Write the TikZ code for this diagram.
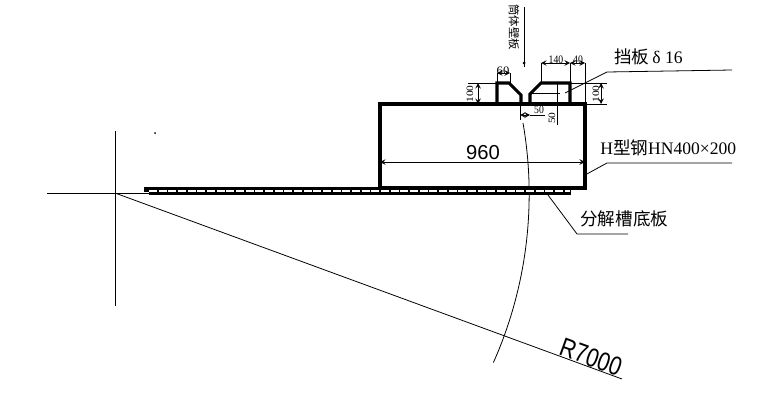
\documentclass[tikz,border=0pt]{standalone}
\usepackage{fontspec}
\setmainfont{Liberation Serif}
\newfontfamily\cjk{Noto Sans CJK SC}
\newfontfamily\dimfont{Liberation Sans}
\tikzset{
  wall/.style={draw,line width=1.8pt,line join=miter},
  thin line/.style={draw,line width=0.45pt},
  dim/.style={draw,line width=0.4pt,<->,>=stealth},
  dimtext/.style={inner sep=0pt,xscale=0.85,font=\fontsize{6.5}{7}\selectfont},
  label/.style={inner sep=0pt,anchor=west,font=\fontsize{10}{12}\selectfont},
  bigtext/.style={inner sep=0pt,font=\dimfont\fontsize{11.5}{12}\selectfont}
}
\begin{document}
\begin{tikzpicture}
\begin{scope}[x=0.2mm,y=-0.2mm]
\useasboundingbox (0,0) rectangle (759,403);

% centre lines and radius
\path[thin line] (115,131)--(115,306);
\path[thin line] (47,193)--(149,193);
\path[thin line] (115,193)--(622,379);
\path[thin line] (523,123) arc[start angle=-9.9,end angle=24,radius=414];
\path[draw,fill] (155,133) circle (0.5);

% bottom plate
\path[draw=black,fill=black] (144,187)--(570,187)--(570,194)--(149,194)--(149,191)--(144,191)--cycle;
\path[draw=white,line width=0.6pt,dash pattern=on 4.5pt off 1pt] (149,191)--(570,191);

% H beam
\path[wall] (380,188)--(380,104)--(585,104)--(585,188)--cycle;

% baffles
\path[wall] (497,104)--(497,83)--(509,83)--(521,95)--(521,104);
\path[wall] (530,104)--(530,94)--(541,83)--(570,83)--(570,104);

% dimensions
\path[dim] (380,162)--(585,162);
\path[thin line] (497,83)--(497,73);
\path[thin line] (510,83)--(510,73);
\path[dim] (497,73)--(510,73);
\path[thin line] (541,83)--(541,63);
\path[thin line] (570,83)--(570,63);
\path[thin line] (585,104)--(585,63);
\path[dim] (541,63)--(570,63);
\path[dim] (570,63)--(585,63);
\path[thin line] (468,83)--(497,83);
\path[thin line] (468,104)--(497,104);
\path[dim] (478,83)--(478,104);
\path[thin line] (570,83)--(607,83);
\path[thin line] (585,104)--(607,104);
\path[dim] (601,83)--(601,104);
\path[thin line] (520,104)--(520,120);
\path[dim] (520,115)--(530,115);
\path[thin line] (530,115)--(545,115);
\path[thin line] (530,93)--(560,93);
\path[thin line] (557,83)--(557,125);

\node[dimtext,xscale=1.3] (dimsixty) at (503,71) {60};
\node[dimtext] (dimwide) at (556,60) {140};
\node[dimtext] (dimforty) at (578,60) {40};
\node[dimtext,rotate=90] (dimleft) at (470,94) {100};
\node[dimtext,rotate=90] (dimright) at (596,94) {100};
\node[dimtext] (dimgap) at (539,110) {50};
\node[dimtext,rotate=90] (dimrise) at (552,118) {50};
\node[bigtext] (dimspan) at (483,153) {960};
\node[inner sep=0pt,rotate=-20,xscale=0.82,font=\dimfont\fontsize{15}{16}\selectfont] (dimradius) at (591,357) {R7000};

% leaders
\path[thin line] (524,7)--(524,67);
\path[draw,fill] (524,63) circle (1);
\path[thin line] (565,93)--(607,72)--(732,70);
\path[thin line] (585,175)--(607,163)--(732,163);
\path[thin line] (548,195)--(577,234)--(628,234);

\node[inner sep=0pt,rotate=-90,font=\cjk\fontsize{6.5}{7}\selectfont] (wallplate) at (514,27) {筒体壁板};
\node[label] (baffle) at (614,57) {{\cjk 挡板}\,δ\ 16};
\node[label] (beam) at (600,148) {H{\cjk 型钢}HN400×200};
\node[label] (bottomplate) at (580,219) {\cjk 分解槽底板};

\end{scope}
\end{tikzpicture}
\end{document}
